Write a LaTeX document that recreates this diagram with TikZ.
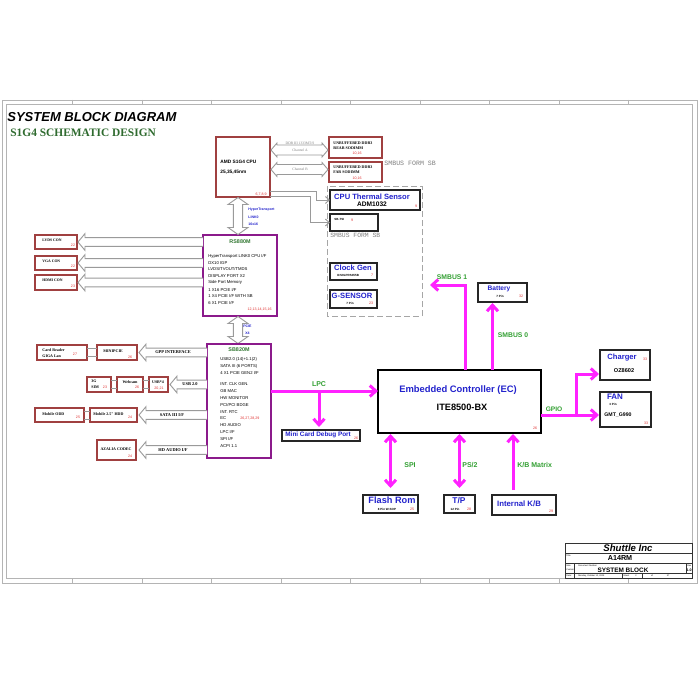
\documentclass[tikz,border=0pt]{standalone}
\usepackage{fontspec}
\setmainfont{Liberation Sans}
\newfontfamily\tms{Liberation Serif}
\newfontfamily\cour{Liberation Mono}
\usetikzlibrary{arrows.meta,calc}
\definecolor{boxred}{HTML}{A04040}
\definecolor{purp}{HTML}{8B1A8B}
\definecolor{magc}{HTML}{FF22FF}
\definecolor{labgreen}{HTML}{33A033}
\definecolor{dkgreen}{HTML}{2F6B2F}
\definecolor{tblue}{HTML}{2222CC}
\definecolor{numred}{HTML}{E03030}
\definecolor{arrgray}{HTML}{9A9A9A}
\definecolor{framec}{HTML}{B4B4B4}
\newcommand\fsz[1]{\fontsize{#1}{#1}\selectfont}
\newcommand\bx[6]{\node[#6, minimum width={(#4-#2)*0.5pt}, minimum height={(#5-#3)*0.5pt}, anchor=north west, inner sep=0pt, outer sep=0pt] (#1) at (#2,#3) {};}
\newcommand\fatL[2]{\draw[hollow] let \p1=#1, \p2=#2 in (\x2,\y1+2.2pt) -- (\x1+3.5pt,\y1+2.2pt) -- (\x1+3.5pt,\y1+4.2pt) -- (\x1,\y1) -- (\x1+3.5pt,\y1-4.2pt) -- (\x1+3.5pt,\y1-2.2pt) -- (\x2,\y1-2.2pt);}
\newcommand\fatLR[2]{\draw[hollow] let \p1=#1, \p2=#2 in (\x1,\y1) -- (\x1+3pt,\y1+3.5pt) -- (\x1+3pt,\y1+2.5pt) -- (\x2-3pt,\y1+2.5pt) -- (\x2-3pt,\y1+3.5pt) -- (\x2,\y1) -- (\x2-3pt,\y1-3.5pt) -- (\x2-3pt,\y1-2.5pt) -- (\x1+3pt,\y1-2.5pt) -- (\x1+3pt,\y1-3.5pt) -- cycle;}
\newcommand\fatUD[2]{\draw[hollow] let \p1=#1, \p2=#2 in (\x1,\y1) -- (\x1+5pt,\y1-3.5pt) -- (\x1+2.3pt,\y1-3.5pt) -- (\x1+2.3pt,\y2+3.5pt) -- (\x1+5pt,\y2+3.5pt) -- (\x1,\y2) -- (\x1-5pt,\y2+3.5pt) -- (\x1-2.3pt,\y2+3.5pt) -- (\x1-2.3pt,\y1-3.5pt) -- (\x1-5pt,\y1-3.5pt) -- cycle;}
\tikzset{
  rbox/.style={draw=boxred, line width=0.75pt, fill=white},
  pbox/.style={draw=purp, line width=0.8pt, fill=white},
  kbox/.style={draw=black!85, line width=0.8pt, fill=white},
  ecbox/.style={draw=black, line width=1.4pt, fill=white},
  num/.style={text=numred, font=\fsz{1.8}, inner sep=0pt},
  tx/.style={inner sep=0pt},
  st/.style={inner sep=0pt, font=\tms\bfseries\fsz{2}},
  lst/.style={inner sep=0pt, anchor=west, font=\fsz{2.1}},
  gl/.style={text=labgreen, font=\bfseries\fsz{3.5}, inner sep=0pt},
  bt/.style={text=tblue, font=\bfseries\fsz{3.8}, inner sep=0pt},
  tiny/.style={inner sep=0pt, font=\bfseries\fsz{1.5}},
  mag/.style={draw=magc, line width=1.5pt},
  magarr/.style={-{Straight Barb[length=3pt,width=5.5pt]}},
  magdbl/.style={{Straight Barb[length=3pt,width=5.5pt]}-{Straight Barb[length=3pt,width=5.5pt]}},
  hollow/.style={draw=arrgray, line width=0.45pt, fill=white},
  gline/.style={draw=arrgray, line width=0.45pt},
  garr/.style={-{Straight Barb[length=2pt,width=3.5pt]}},
  tb/.style={draw=black!80, line width=0.35pt},
}
\begin{document}
\begin{tikzpicture}[x=0.5pt, y=-0.5pt]
\fill[white] (0,0) rectangle (700,700);
\useasboundingbox (0,0) rectangle (700,700);
% frame
\draw[framec, line width=0.4pt] (2,100) rectangle (697,583);
\draw[framec, line width=0.4pt] (6,104) rectangle (692,578);
\foreach \i in {1,...,9} {
  \draw[framec, line width=0.4pt] ({3+69.5*\i},100) -- ({3+69.5*\i},104);
  \draw[framec, line width=0.4pt] ({3+69.5*\i},578) -- ({3+69.5*\i},583);
}
% titles
\node[tx, anchor=west, font=\bfseries\itshape\fsz{6.5}] (title) at (7,117) {SYSTEM BLOCK DIAGRAM};
\node[tx, anchor=west, text=dkgreen, font=\tms\bfseries\fsz{5.7}] (subtitle) at (10,133) {S1G4 SCHEMATIC DESIGN};

% CPU
\bx{cpu}{216}{137}{270}{197}{rbox}
\node[tx, anchor=west, font=\bfseries\fsz{2.4}] (cpu1) at (220,162) {AMD S1G4 CPU};
\node[tx, anchor=west, font=\bfseries\fsz{2.4}] (cpu2) at (220,172) {25,35,45nm};
\node[num, anchor=east] (cpun) at (267,194) {6,7,8,9};

% DDR
\bx{ddra}{329}{137}{382}{158}{rbox}
\node[st, anchor=west] (ddra1) at (333,143) {UNBUFFERED DDR3};
\node[st, anchor=west] (ddra2) at (333,148) {REAR SODIMM};
\node[num] (ddran) at (357,153.5) {10,16};
\bx{ddrb}{329}{162}{382}{182}{rbox}
\node[st, anchor=west] (ddrb1) at (333,167) {UNBUFFERED DDR3};
\node[st, anchor=west] (ddrb2) at (333,172.5) {FAR SODIMM};
\node[num] (ddrbn) at (357,178) {10,16};
\coordinate (cha1) at (271,150);
\coordinate (cha2) at (328,150);
\coordinate (chb1) at (271,169.5);
\coordinate (chb2) at (328,169.5);
\fatLR{(cha1)}{(cha2)}
\fatLR{(chb1)}{(chb2)}
\node[tx, text=gray, font=\tms\fsz{1.8}] (ddrl) at (300,143.5) {DDR III 1333MT/S};
\node[tx, text=gray, font=\tms\fsz{1.8}] (cha) at (300,150) {Channel A};
\node[tx, text=gray, font=\tms\fsz{1.8}] (chb) at (300,169.5) {Channel B};
\node[tx, anchor=west, text=gray, font=\cour\fsz{3.3}] (smb1) at (384,163) {SMBUS FORM SB};

% sensor group
\draw[draw=gray!70, line width=0.4pt, dash pattern=on 3pt off 1.5pt] (327,186) rectangle (422,316);
\bx{ts}{330}{190}{420}{210}{kbox}
\node[bt] (ts1) at (372,197) {CPU Thermal Sensor};
\node[tx, font=\bfseries\fsz{3.3}] (ts2) at (372,204.5) {ADM1032};
\node[num] (tsn) at (416,206) {9};
\bx{tsi}{330}{214}{378}{231}{kbox}
\node[tiny, anchor=west] (tsi1) at (334,219) {SB-TSI};
\node[num] (tsin) at (352,220) {9};
\node[tx, anchor=west, text=gray, font=\cour\fsz{3.2}] (smb2) at (330,235) {SMBUS FORM SB};
\bx{cg}{330}{263}{377}{280}{kbox}
\node[bt] (cg1) at (353,268) {Clock Gen};
\node[tiny] (cg2) at (348,275) {ICS9LPRS355B};
\node[num] (cgn) at (372,275.5) {7};
\bx{gs}{330}{290}{377}{308}{kbox}
\node[bt] (gs1) at (352,296) {G-SENSOR};
\node[tiny] (gs2) at (350,303) {7 Pin};
\node[num] (gsn) at (371,303) {23};
\draw[gline, garr] ([yshift=3pt]cpu.south east) -- ++(46,0) |- (ts.west);
\draw[gline, garr] ([yshift=0.5pt]cpu.south east) -- ++(40,0) |- (tsi.west);

% RS880M
\bx{rs}{203}{235}{277}{316}{pbox}
\node[tx, text=dkgreen!80!labgreen, font=\bfseries\fsz{2.7}] (rst) at (240,241.5) {RS880M};
\foreach \t [count=\i from 0] in {HyperTransport LINK0 CPU I/F, DX10 IGP, LVDS/TVOUT/TMDS, DISPLAY PORT X2, Side Port Memory, 1 X16 PCIE I/F, 1 X4 PCIE I/F WITH SB, 6 X1 PCIE I/F}
  \node[lst] (rsl\i) at (208,{256+6.7*\i}) {\t};
\node[num, anchor=east] (rsn) at (272,309.5) {12,13,14,15,16};

% HT and PCIE arrows
\coordinate (ht1) at (238,197.5);
\coordinate (ht2) at (238,234.5);
\fatUD{(ht1)}{(ht2)}
\node[tx, anchor=west, text=tblue, font=\bfseries\fsz{1.75}] (ht3) at (248,210) {HyperTransport};
\node[tx, anchor=west, text=tblue, font=\bfseries\fsz{1.75}] (ht4) at (248,217) {LINK0};
\node[tx, anchor=west, text=tblue, font=\bfseries\fsz{1.75}] (ht5) at (248,224) {16x16};
\coordinate (pc1) at (238,316.5);
\coordinate (pc2) at (238,343.5);
\fatUD{(pc1)}{(pc2)}
\node[tx, anchor=west, text=tblue, font=\bfseries\fsz{1.75}] (pc3) at (243,326.5) {PCIE};
\node[tx, anchor=west, text=tblue, font=\bfseries\fsz{1.75}] (pc4) at (245,333.5) {X4};

% display connectors
\bx{lvds}{35}{235}{77}{249}{rbox}
\node[st, anchor=west, font=\tms\bfseries\fsz{1.9}] (lvds1) at (42,240) {LVDS CON};
\node[num] (lvdsn) at (73,245) {22};
\bx{vga}{35}{256}{77}{270}{rbox}
\node[st, anchor=west, font=\tms\bfseries\fsz{1.9}] (vga1) at (42,261) {VGA CON};
\node[num] (vgan) at (73,266) {22};
\bx{hdmi}{35}{275}{77}{290}{rbox}
\node[st, anchor=west, font=\tms\bfseries\fsz{1.9}] (hdmi1) at (42,280.5) {HDMI CON};
\node[num] (hdmin) at (73,286) {23};
\fatL{([xshift=0.5pt]lvds.east)}{(rs.west)}
\fatL{([xshift=0.5pt]vga.east)}{(rs.west)}
\fatL{([xshift=0.5pt]hdmi.east)}{(rs.west)}

% SB820M
\bx{sb}{207}{344}{271}{458}{pbox}
\node[tx, text=dkgreen!80!labgreen, font=\bfseries\fsz{2.7}] (sbt) at (239,350) {SB820M};
\foreach \t [count=\i from 0] in {USB2.0 (14)+1.1(2), SATA III (6 PORTS), 4 X1 PCIE GEN2 I/F}
  \node[lst] (sba\i) at (220,{359+7*\i}) {\t};
\foreach \t [count=\i from 0] in {INT. CLK GEN., GB MAC, HW MONITOR, PCI/PCI BDGE, INT. RTC, EC, HD AUDIO, LPC I/F, SPI I/F, ACPI 1.1}
  \node[lst] (sbb\i) at (220,{384+6.9*\i}) {\t};
\node[num, anchor=west] (sbn) at (240,418.7) {26,27,28,29};

% left peripherals
\bx{cr}{37}{345}{87}{360}{rbox}
\node[st, anchor=west] (cr1) at (42,350.5) {Card Reader};
\node[st, anchor=west] (cr2) at (42,356) {GIGA Lan};
\node[num] (crn) at (75,354.5) {27};
\bx{mpc}{97}{345}{137}{360}{rbox}
\node[st, anchor=west] (mpc1) at (103,351) {MINIPCIE};
\node[num] (mpcn) at (130,357) {26};
\draw[gline] ([yshift=2pt]cr.east) -- ([yshift=2pt]cr.east -| mpc.west);
\draw[gline] ([yshift=-2pt]cr.east) -- ([yshift=-2pt]cr.east -| mpc.west);
\fatL{([xshift=1pt]mpc.east)}{(sb.west)}
\node[st, font=\tms\bfseries\fsz{2.2}] (gpp) at (173,352.5) {GPP INTERFACE};

\bx{sim}{87}{377}{111}{392}{rbox}
\node[st, anchor=west] (sim1) at (91,381.5) {3G};
\node[st, anchor=west] (sim2) at (91,387) {SIM};
\node[num] (simn) at (105,387) {23};
\bx{web}{117}{377}{143}{392}{rbox}
\node[st] (web1) at (130,382.5) {Webcam};
\node[num] (webn) at (137,387.5) {26};
\bx{usb}{149}{377}{168}{392}{rbox}
\node[st] (usb1) at (158,382) {USB*4};
\node[num] (usbn) at (159,388) {20,21};
\draw[gline] ([yshift=2pt]sim.east) -- ([yshift=2pt]sim.east -| web.west);
\draw[gline] ([yshift=-2pt]sim.east) -- ([yshift=-2pt]sim.east -| web.west);
\draw[gline] ([yshift=2pt]web.east) -- ([yshift=2pt]web.east -| usb.west);
\draw[gline] ([yshift=-2pt]web.east) -- ([yshift=-2pt]web.east -| usb.west);
\fatL{([xshift=1pt]usb.east)}{(sb.west)}
\node[st, anchor=west, font=\tms\bfseries\fsz{2.2}] (usbl) at (182,384.5) {USB 2.0};

\bx{odd}{35}{408}{84}{422}{rbox}
\node[st, anchor=west] (odd1) at (42,414) {Mobile ODD};
\node[num] (oddn) at (78,417) {25};
\bx{hdd}{90}{408}{137}{422}{rbox}
\node[st, anchor=west] (hdd1) at (93,414) {Mobile 2.5" HDD};
\node[num] (hddn) at (130,417) {24};
\draw[gline] ([yshift=2pt]odd.east) -- ([yshift=2pt]odd.east -| hdd.west);
\draw[gline] ([yshift=-2pt]odd.east) -- ([yshift=-2pt]odd.east -| hdd.west);
\fatL{([xshift=1pt]hdd.east)}{(sb.west)}
\node[st, font=\tms\bfseries\fsz{2.2}] (sata) at (172,415) {SATA III I/F};

\bx{az}{97}{440}{136}{460}{rbox}
\node[st] (az1) at (116,449) {AZALIA CODEC};
\node[num] (azn) at (130,456) {24};
\fatL{([xshift=1.5pt]az.east)}{(sb.west)}
\node[st, font=\tms\bfseries\fsz{2.2}] (hda) at (173,450) {HD AUDIO I/F};

% EC
\bx{ec}{378}{370}{541}{433}{ecbox}
\node[tx, text=tblue, font=\bfseries\fsz{4.7}] (ec1) at (458,390) {Embedded Controller (EC)};
\node[tx, font=\bfseries\fsz{4.6}] (ec2) at (462,407.5) {ITE8500-BX};
\node[num] (ecn) at (535,428.5) {26};

% LPC
\draw[mag, magarr] ([yshift=5pt]sb.east) -- ([yshift=5pt]sb.east -| ec.west);
\node[gl] (lpc) at (319,384.5) {LPC};
\coordinate (lpcb) at (319,391);
\bx{mcd}{282}{430}{360}{441}{kbox}
\draw[mag, magarr, shorten >=1.5pt] (lpcb) -- (lpcb |- mcd.north);
\node[tx, anchor=west, text=tblue, font=\bfseries\fsz{3.2}] (mcd1) at (285,435) {Mini Card Debug Port};
\node[num] (mcdn) at (356,438) {26};

% SMBus
\coordinate (sm1end) at (430,285);
\draw[mag, magarr] ([xshift=3pt]ec.north) |- (sm1end);
\node[gl, font=\bfseries\fsz{3.4}] (sm1) at (452,277) {SMBUS 1};
\bx{bat}{478}{283}{527}{302}{kbox}
\node[bt, font=\bfseries\fsz{3.3}] (bat1) at (499,289) {Battery};
\node[tiny] (bat2) at (500,296.5) {7 Pin};
\node[num] (batn) at (521,296.5) {32};
\draw[mag, magarr, shorten >=0.5pt] ([xshift=16.5pt]ec.north) -- ([xshift=16.5pt]ec.north |- bat.south);
\node[gl, font=\bfseries\fsz{3.4}] (sm0) at (513,335) {SMBUS 0};

% GPIO
\bx{chg}{600}{350}{650}{380}{kbox}
\node[bt] (chg1) at (622,358) {Charger};
\node[num] (chgn) at (645,359.5) {33};
\node[tx, font=\bfseries\fsz{2.8}] (chg2) at (624,371) {OZ8602};
\bx{fan}{600}{392}{651}{427}{kbox}
\node[bt, font=\bfseries\fsz{4}] (fan1) at (615,397) {FAN};
\node[tiny] (fan2) at (613,404.5) {3 Pin};
\node[tx, anchor=west, font=\bfseries\fsz{2.6}] (fan3) at (604,415) {GMT\_G990};
\node[num] (fann) at (646,423.5) {33};
\coordinate (gpio) at (576,415);
\draw[mag, magarr, shorten >=0.5pt] (ec.east |- gpio) -- (gpio -| fan.west);
\draw[mag, magarr, shorten >=0.5pt] (gpio) |- ([yshift=-4.5pt]chg.west);
\node[gl, font=\bfseries\fsz{3.3}] (gpiol) at (554,409) {GPIO};

% bottom devices
\bx{fr}{363}{495}{418}{513}{kbox}
\node[bt, font=\bfseries\fsz{4.6}] (fr1) at (392,500.5) {Flash Rom};
\node[tiny] (fr2) at (387,509) {8 Pin W-SOP};
\node[num] (frn) at (412,509) {25};
\bx{tp}{444}{495}{475}{513}{kbox}
\node[bt, font=\bfseries\fsz{4.2}] (tp1) at (459,500.5) {T/P};
\node[tiny] (tp2) at (455,509) {12 Pin};
\node[num] (tpn) at (469,509) {28};
\bx{kb}{492}{495}{556}{515}{kbox}
\node[bt, font=\bfseries\fsz{3.9}] (kb1) at (519,504) {Internal K/B};
\node[num] (kbn) at (551,511) {29};
\draw[mag, magdbl, shorten <=0.5pt, shorten >=3.5pt] (fr.north |- ec.south) -- (fr.north);
\draw[mag, magdbl, shorten <=0.5pt, shorten >=3.5pt] (tp.north |- ec.south) -- (tp.north);
\draw[mag, magarr, shorten <=2.5pt, shorten >=0.5pt] ([xshift=-5.5pt]kb.north) -- ([xshift=-5.5pt]kb.north |- ec.south);
\node[gl, anchor=west] (spi) at (404,465) {SPI};
\node[gl, anchor=west] (ps2) at (462,465) {PS/2};
\node[gl, anchor=west] (kbm) at (517,465) {K/B Matrix};

% title block
\draw[tb] (565,543) rectangle (692,578);
\draw[tb] (565,553) -- (692,553);
\draw[tb] (565,563) -- (692,563);
\draw[tb] (565,573.5) -- (692,573.5);
\draw[tb] (574,563) -- (574,578);
\draw[tb] (686,563) -- (686,573.5);
\draw[tb] (622,573.5) -- (622,578);
\draw[tb] (642,573.5) -- (642,578);
\node[tx, font=\bfseries\itshape\fsz{4.8}] (tb1) at (628,548) {Shuttle Inc};
\node[tx, anchor=west, font=\fsz{1.1}] (tb2) at (566,555.5) {Title};
\node[tx, font=\bfseries\fsz{3.6}] (tb3) at (620,558.5) {A14RM};
\node[tx, anchor=west, font=\fsz{1.1}] (tb4) at (566,565.5) {Size};
\node[tx, anchor=west, font=\fsz{1.1}] (tb5) at (566,569.5) {Custom};
\node[tx, anchor=west, font=\fsz{1.1}] (tb6) at (578,565.5) {Document Number};
\node[tx, font=\bfseries\fsz{3.2}] (tb7) at (623,570) {SYSTEM BLOCK};
\node[tx, anchor=west, font=\fsz{1.1}] (tb8) at (687,565.5) {Rev};
\node[tx, font=\bfseries\fsz{1.8}] (tb9) at (689,570) {1.0};
\node[tx, anchor=west, font=\fsz{1.1}] (tb10) at (566,575.8) {Date:};
\node[tx, anchor=west, font=\fsz{1.1}] (tb11) at (578,575.8) {Monday, October 12, 2009};
\node[tx, anchor=west, font=\fsz{1.1}] (tb12) at (623,575.8) {Sheet};
\node[tx, font=\fsz{1.1}] (tb13) at (636,575.8) {2};
\node[tx, font=\fsz{1.1}] (tb14) at (652,575.8) {of};
\node[tx, font=\fsz{1.1}] (tb15) at (668,575.8) {37};
\end{tikzpicture}
\end{document}
